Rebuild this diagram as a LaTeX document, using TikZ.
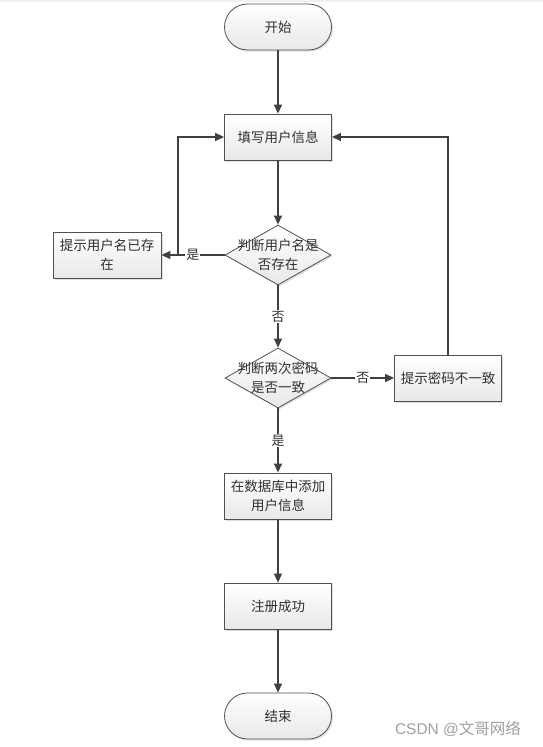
\documentclass[tikz,border=0pt]{standalone}
\usepackage{fontspec}
\newfontfamily\cjk{Noto Sans CJK SC}
\setsansfont{Liberation Sans}
\usetikzlibrary{shapes.geometric,arrows.meta,shadows}
\definecolor{linec}{HTML}{404040}
\definecolor{borderc}{HTML}{505050}
\definecolor{textc}{HTML}{303030}
\begin{document}
\begin{tikzpicture}[x=1pt,y=-1pt,
  base/.style={draw=borderc, line width=0.8pt, top color=white, bottom color=gray!18,
    drop shadow={shadow xshift=1.5pt, shadow yshift=-1.5pt, opacity=0.25}},
  procbox/.style={base, rectangle, minimum width=107pt, minimum height=46pt, inner sep=1pt,
    align=center, font=\cjk\fontsize{13.5}{19.5}\selectfont, text=textc},
  termbox/.style={procbox, rounded corners=23pt},
  decbox/.style={base, diamond, minimum width=106pt, minimum height=60pt, inner sep=0pt},
  dectext/.style={align=center, font=\cjk\fontsize{13.5}{19.5}\selectfont, text=textc, inner sep=0pt},
  arr/.style={draw=linec, line width=1.3pt, -{Triangle[length=9pt,width=8pt]}},
  lab/.style={fill=white, inner sep=1pt, font=\cjk\fontsize{13}{14}\selectfont, text=textc}
]
\useasboundingbox (0,0) rectangle (543,747);
\draw[gray!12, line width=2pt] (0,1) -- (543,1);

\node[termbox] (start) at (278,27) {开始};
\node[procbox] (fill) at (278,137) {填写用户信息};
\node[decbox] (d1) at (278,255) {};
\node[dectext] (d1t) at (278,255) {判断用户名是\\否存在};
\node[procbox, minimum width=108pt] (warn1) at (107,255) {提示用户名已存\\在};
\node[decbox] (d2) at (278,378) {};
\node[dectext] (d2t) at (278,378) {判断两次密码\\是否一致};
\node[procbox] (warn2) at (448,378) {提示密码不一致};
\node[procbox] (add) at (278,496) {在数据库中添加\\用户信息};
\node[procbox] (ok) at (278,606) {注册成功};
\node[termbox] (end) at (278,716) {结束};

\coordinate (j1) at (178,255);

\draw[arr] (start) -- (fill);
\draw[arr] (fill) -- (d1);
\draw[arr] (d1) -- node[lab]{是} (warn1);
\draw[arr] (j1) |- (fill.west);
\draw[arr] (d1) -- node[lab]{否} (d2);
\draw[arr] (d2) -- node[lab]{否} (warn2);
\draw[arr] (warn2.north) |- (fill.east);
\draw[arr] (d2) -- node[lab]{是} (add);
\draw[arr] (add) -- (ok);
\draw[arr] (ok) -- (end);

\node[text=gray!75, font=\fontsize{15.5}{17}\selectfont, inner sep=0pt] (wm) at (458,729) {\sffamily CSDN @\cjk 文哥网络};
\end{tikzpicture}
\end{document}
